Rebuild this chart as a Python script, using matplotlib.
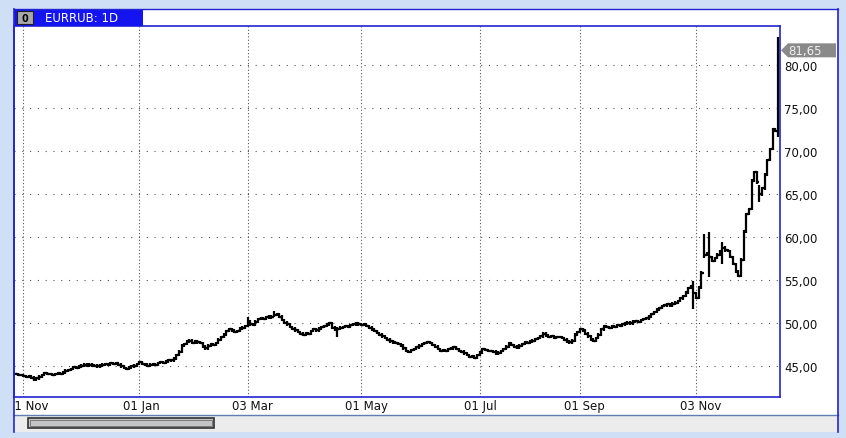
import matplotlib
matplotlib.use("Agg")
import matplotlib.pyplot as plt
from matplotlib.patches import Rectangle, Polygon
from matplotlib.transforms import blended_transform_factory
import numpy as np

# daily closes, EURRUB 1D
closes = [
    44.0, 43.9, 43.9, 43.8, 43.7, 43.8, 43.6, 43.4, 43.5, 43.7,
    43.9, 44.1, 44.0, 44.0, 43.9, 44.0, 44.1, 44.0, 44.2, 44.4,
    44.5, 44.6, 44.8, 44.7, 44.9, 45.0, 45.1, 45.0, 45.1, 45.0,
    45.0, 44.9, 45.0, 45.1, 45.2, 45.1, 45.3, 45.2, 45.3, 45.1,
    44.9, 44.7, 44.6, 44.8, 44.9, 45.0, 45.2, 45.4, 45.2, 45.1,
    45.0, 45.1, 45.2, 45.1, 45.3, 45.4, 45.3, 45.5, 45.6, 45.6,
    45.8, 46.2, 46.6, 47.3, 47.5, 47.8, 47.9, 47.6, 47.8, 47.7,
    47.6, 47.2, 47.0, 47.3, 47.5, 47.4, 47.6, 48.0, 48.3, 48.6,
    49.0, 49.2, 49.1, 48.9, 49.0, 49.3, 49.4, 49.6, 50.1, 49.8,
    49.7, 50.1, 50.4, 50.5, 50.4, 50.6, 50.7, 50.6, 50.9, 51.0,
    50.7, 50.3, 50.0, 49.8, 49.5, 49.3, 49.1, 48.9, 48.7, 48.6,
    48.8, 48.7, 49.0, 49.2, 49.1, 49.3, 49.5, 49.6, 49.8, 49.9,
    49.4, 49.2, 49.3, 49.4, 49.5, 49.6, 49.5, 49.7, 49.8, 49.9,
    49.8, 49.7, 49.8, 49.6, 49.4, 49.2, 49.0, 48.8, 48.6, 48.4,
    48.2, 48.0, 47.8, 47.7, 47.6, 47.5, 47.3, 47.0, 46.7, 46.6,
    46.8, 46.9, 47.1, 47.3, 47.5, 47.6, 47.7, 47.6, 47.4, 47.2,
    46.9, 46.7, 46.8, 46.7, 46.9, 47.0, 47.1, 46.9, 46.7, 46.6,
    46.4, 46.2, 46.0, 46.1, 45.9, 46.2, 46.5, 46.9, 46.8, 46.7,
    46.7, 46.6, 46.4, 46.5, 46.7, 46.9, 47.2, 47.6, 47.4, 47.2,
    47.1, 47.3, 47.5, 47.7, 47.6, 47.8, 47.9, 48.1, 48.2, 48.4,
    48.7, 48.5, 48.3, 48.4, 48.2, 48.3, 48.3, 48.2, 48.0, 47.8,
    47.7, 47.9, 48.6, 48.9, 49.2, 49.1, 48.7, 48.4, 48.0, 47.9,
    48.2, 48.6, 49.2, 49.6, 49.5, 49.4, 49.6, 49.5, 49.7, 49.6,
    49.8, 49.9, 50.0, 49.9, 50.1, 50.2, 50.1, 50.3, 50.4, 50.5,
    50.7, 51.0, 51.2, 51.5, 51.7, 51.9, 52.0, 52.1, 52.0, 52.2,
    52.3, 52.5, 52.8, 53.1, 53.5, 54.0, 54.2, 53.4, 52.9, 54.1,
    55.8, 57.9, 58.0, 57.6, 57.2, 57.5, 57.9, 58.3, 58.7, 58.4,
    58.3, 57.6, 56.8, 55.9, 55.4, 57.3, 60.6, 62.6, 63.2, 66.5,
    67.5, 66.3, 64.9, 65.6, 67.2, 68.9, 70.2, 72.5, 72.3, 81.65,
]

# bars with long shadows: index -> (low, high)
wicks = {88: (49.5, 50.6), 98: (50.6, 51.3), 122: (48.3, 49.5),
         257: (51.6, 54.8), 261: (57.5, 60.3), 263: (55.3, 60.5),
         268: (56.8, 59.4), 282: (64.0, 66.0), 289: (71.6, 83.2)}

tick_pos = [3, 47, 88, 131, 176, 214, 258]
tick_labels = ["01 Nov", "01 Jan", "03 Mar", "01 May", "01 Jul", "01 Sep", "03 Nov"]
y_ticks = [45, 50, 55, 60, 65, 70, 75, 80]
last_price = "81,65"

W, H = 846, 439
BG = "#cfe0f6"
BLUE = "#2424d0"

def fx(px):
    return px / W

def fy(py):
    return 1 - py / H

fig = plt.figure(figsize=(W / 100, H / 100), dpi=100, facecolor=BG)

def frect(x0, y0, x1, y1, z=-5, **kw):
    r = Rectangle((fx(x0), fy(y1)), fx(x1) - fx(x0), fy(y0) - fy(y1),
                  transform=fig.transFigure, zorder=z, **kw)
    fig.patches.append(r)
    return r

# white panel + scroll strip
frect(14, 10, 838, 433, facecolor="white", edgecolor="none", z=-10)
frect(15, 416, 837, 433, facecolor="#ececec", edgecolor="none", z=-9)
fig.add_artist(plt.Line2D([fx(14), fx(838)], [fy(416), fy(416)], color="#5f7fb0", lw=1.0))
fig.add_artist(plt.Line2D([fx(14), fx(14)], [fy(10), fy(433)], color=BLUE, lw=1.2))
fig.add_artist(plt.Line2D([fx(837.5), fx(837.5)], [fy(10), fy(433)], color=BLUE, lw=1.2))
fig.add_artist(plt.Line2D([fx(14), fx(838)], [fy(10), fy(10)], color=BLUE, lw=1.0))

# tab
frect(14, 10, 143, 27, facecolor="#1414f0", edgecolor="none", z=1)
frect(17, 12, 33, 25, facecolor="#a8a8a8", edgecolor="#202020", lw=0.8, z=2)
fig.text(fx(25), fy(18.5), "0", ha="center", va="center", fontsize=7,
         fontweight="bold", color="black")
fig.text(fx(45), fy(18.5), "EURRUB: 1D", ha="left", va="center",
         fontsize=8.5, color="white")

# scroll thumb
frect(28, 419, 214, 429, facecolor="#c4c4c4", edgecolor="#303030", lw=1.2, z=1)
frect(30, 421, 212, 427, facecolor="none", edgecolor="#707070", lw=0.6, z=2)

# main plot
ax = fig.add_axes([fx(14), fy(398), fx(780) - fx(14), fy(27) - fy(398)])
ax.set_facecolor("white")
n = len(closes)
idx = np.arange(n)
c = np.array(closes)
o = np.concatenate([[c[0]], c[:-1]])
lo = np.minimum(o, c) - 0.15
hi = np.maximum(o, c) + 0.15
for k, (l, h) in wicks.items():
    lo[k] = l
    hi[k] = h

ax.set_xlim(-0.5, n - 0.2)
ax.set_ylim(41.34, 84.48)

for t in tick_pos:
    ax.axvline(t, color="#555555", lw=0.8, ls=(0, (1, 2)), zorder=1)
for v in y_ticks:
    ax.axhline(v, color="#555555", lw=0.8, ls=(0, (1, 6)), zorder=1)

ax.vlines(idx, lo, hi, color="black", lw=1.6, zorder=3)
ax.hlines(o, idx - 0.6, idx, color="black", lw=1.6, zorder=3)
ax.hlines(c, idx, idx + 0.6, color="black", lw=1.6, zorder=3)

for s in ax.spines.values():
    s.set_color(BLUE)
    s.set_linewidth(1.2)
ax.set_xticks([])
ax.yaxis.tick_right()
ax.set_yticks(y_ticks)
ax.set_yticklabels([f"{v:.2f}".replace(".", ",") for v in y_ticks],
                   fontsize=8.5, color="#111111")
ax.tick_params(axis="y", length=0, pad=3)

# last price tag
tr = blended_transform_factory(fig.transFigure, ax.transData)
lp = closes[-1]
hh = 7 / 8.6
tag = Polygon([(fx(781), lp), (fx(788), lp + hh), (fx(836), lp + hh),
               (fx(836), lp - hh), (fx(788), lp - hh)], closed=True,
              transform=tr, facecolor="#8a8a8a", edgecolor="none", zorder=5,
              clip_on=False)
fig.patches.append(tag)
fig.text(fx(788), lp, last_price, transform=tr, ha="left", va="center",
         fontsize=8.5, color="#f0f0f0", zorder=6)

# date strip (labels start 16 px left of their grid line)
axd = fig.add_axes([fx(14), fy(416), fx(780) - fx(14), fy(398) - fy(416)])
axd.set_xlim(ax.get_xlim())
axd.set_ylim(0, 1)
axd.axis("off")
bar_px = (780 - 14) / (ax.get_xlim()[1] - ax.get_xlim()[0])
for t, lab in zip(tick_pos, tick_labels):
    axd.text(t - 16 / bar_px, 0.5, lab, ha="left", va="center", fontsize=8.5,
             color="#111111", clip_on=True)

fig.savefig("out.png", dpi=100, facecolor=BG)
